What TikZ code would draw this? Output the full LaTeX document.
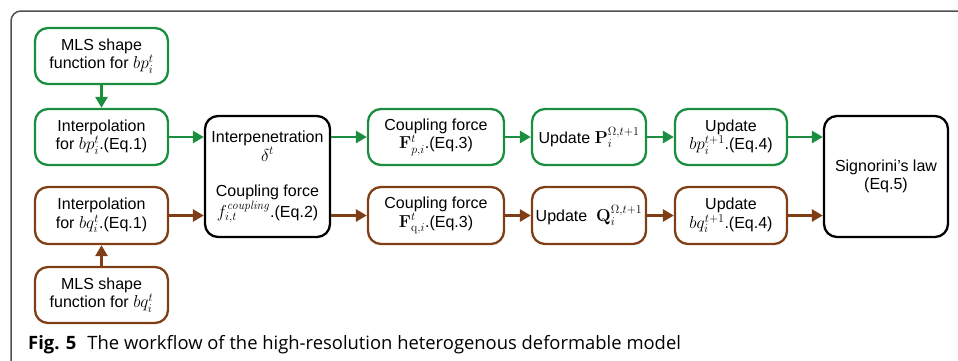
\documentclass[tikz,border=0pt]{standalone}
\usepackage[no-math]{fontspec}
\setmainfont{Liberation Sans}
\newfontfamily\capfont{Open Sans}
\usetikzlibrary{arrows.meta}
\definecolor{flowgreen}{RGB}{28,142,64}
\definecolor{flowbrown}{RGB}{128,62,22}
\definecolor{framegray}{RGB}{80,80,80}
% formulas set a little larger than the surrounding sans text
\newcommand\fm[1]{{\fontsize{18}{18.5}\selectfont$#1$}}
\tikzset{
  stage/.style={draw, rounded corners=13pt, line width=2.3pt, align=center,
    inner sep=0pt, font=\fontsize{16}{18.5}\selectfont, fill=white},
  gstage/.style={stage, draw=flowgreen},
  bstage/.style={stage, draw=flowbrown},
  kstage/.style={stage, draw=black},
  label/.style={align=center, inner sep=0pt, font=\fontsize{16}{18.5}\selectfont},
  garrow/.style={draw=flowgreen, line width=2.8pt, -{Triangle[length=11pt,width=12pt]}},
  barrow/.style={draw=flowbrown, line width=2.8pt, -{Triangle[length=11pt,width=12pt]}},
}
\begin{document}
\begin{tikzpicture}[x=1pt,y=-1pt]
\useasboundingbox (0,0) rectangle (958,360);
\clip (0,0) rectangle (958,360);
% outer frame, open to the right and bottom
\draw[framegray, line width=1.5pt, rounded corners=10pt] (970,11) -- (11,11) -- (11,372);

% green (p) branch
\node[gstage, minimum width=133pt, minimum height=56pt] (mlsp) at (101.5,56)
  {MLS shape\\function for \fm{bp_i^t}};
\node[gstage, minimum width=133pt, minimum height=56pt] (intp) at (101.5,137)
  {Interpolation\\for \fm{bp_i^t}.(Eq.1)};
\node[gstage, minimum width=136pt, minimum height=56pt] (cfp) at (436,137)
  {Coupling force\\\fm{\mathbf{F}_{p,i}^t}.(Eq.3)};
\node[gstage, minimum width=114pt, minimum height=56pt] (upP) at (589,137)
  {Update \fm{\mathbf{P}_i^{\Omega,t+1}}};
\node[gstage, minimum width=112pt, minimum height=56pt] (upbp) at (731,137)
  {Update\\\fm{bp_i^{t+1}}.(Eq.4)};

% brown (q) branch
\node[bstage, minimum width=133pt, minimum height=57pt] (intq) at (101.5,215.5)
  {Interpolation\\for \fm{bq_i^t}.(Eq.1)};
\node[bstage, minimum width=133pt, minimum height=56pt] (mlsq) at (101.5,295)
  {MLS shape\\function for \fm{bq_i^t}};
\node[bstage, minimum width=136pt, minimum height=57pt] (cfq) at (436,215.5)
  {Coupling force\\\fm{\mathbf{F}_{\mathrm{q},i}^t}.(Eq.3)};
\node[bstage, minimum width=114pt, minimum height=57pt] (upQ) at (589,215.5)
  {Update \ \fm{\mathbf{Q}_i^{\Omega,t+1}}};
\node[bstage, minimum width=112pt, minimum height=57pt] (upbq) at (731,215.5)
  {Update\\\fm{bq_i^{t+1}}.(Eq.4)};

% shared stages
\node[kstage, minimum width=125pt, minimum height=121pt] (pen) at (267.5,176.5) {};
\node[label] (pentxt) at (267.5,146) {Interpenetration\\\fm{\delta^t}};
\node[label] (coutxt) at (267.5,204) {Coupling force\\\fm{f_{i,t}^{\mathit{coupling}}}.(Eq.2)};
\node[kstage, minimum width=124pt, minimum height=121pt] (sig) at (886,176.5)
  {Signorini's law\\(Eq.5)};

% connectors
\draw[garrow] (mlsp) -- (intp);
\draw[barrow] (mlsq) -- (intq);
\draw[garrow] (intp) -- (intp -| pen.west);
\draw[garrow] (intp -| pen.east) -- (cfp);
\draw[garrow] (cfp) -- (upP);
\draw[garrow] (upP) -- (upbp);
\draw[garrow] (upbp) -- (upbp -| sig.west);
\draw[barrow] (intq) -- (intq -| pen.west);
\draw[barrow] (intq -| pen.east) -- (cfq);
\draw[barrow] (cfq) -- (upQ);
\draw[barrow] (upQ) -- (upbq);
\draw[barrow] (upbq) -- (upbq -| sig.west);

% caption
\node[anchor=base west, inner sep=0pt, font=\capfont\fontsize{18.4}{21}\selectfont] (cap) at (28,349)
  {\textbf{Fig. 5}\hspace{0.6em}The workflow of the high-resolution heterogenous deformable model};
\end{tikzpicture}
\end{document}
